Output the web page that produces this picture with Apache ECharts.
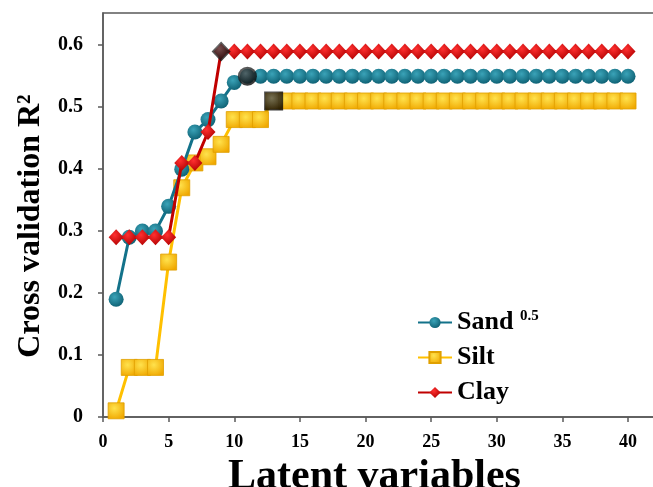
<!DOCTYPE html>
<html><head><meta charset="utf-8">
<script src="https://cdn.jsdelivr.net/npm/echarts@6/dist/echarts.min.js"></script>
<style>html,body{margin:0;padding:0;background:#fff}#c{width:653px;height:487px}</style>
</head><body><div id="c"></div>
<script>
const latent = Array.from({length:40},(_,i)=>i+1);
const sand = [0.19,0.29,0.30,0.30,0.34,0.40,0.46,0.48,0.51,0.54,0.55,0.55,0.55,0.55,0.55,0.55,0.55,0.55,0.55,0.55,0.55,0.55,0.55,0.55,0.55,0.55,0.55,0.55,0.55,0.55,0.55,0.55,0.55,0.55,0.55,0.55,0.55,0.55,0.55,0.55];
const silt = [0.01,0.08,0.08,0.08,0.25,0.37,0.41,0.42,0.44,0.48,0.48,0.48,0.51,0.51,0.51,0.51,0.51,0.51,0.51,0.51,0.51,0.51,0.51,0.51,0.51,0.51,0.51,0.51,0.51,0.51,0.51,0.51,0.51,0.51,0.51,0.51,0.51,0.51,0.51,0.51];
const clay = [0.29,0.29,0.29,0.29,0.29,0.41,0.41,0.46,0.59,0.59,0.59,0.59,0.59,0.59,0.59,0.59,0.59,0.59,0.59,0.59,0.59,0.59,0.59,0.59,0.59,0.59,0.59,0.59,0.59,0.59,0.59,0.59,0.59,0.59,0.59,0.59,0.59,0.59,0.59,0.59];
const optimalLV = {sand:11, silt:13, clay:9};
const xTicks = [0,5,10,15,20,25,30,35,40];
const yTicks = [0,0.1,0.2,0.3,0.4,0.5,0.6];

const pairs = arr => latent.map((x,i)=>[x,arr[i]]);
const radial = (c1,c2)=>({type:'radial',x:0.4,y:0.35,r:0.7,colorStops:[{offset:0,color:c1},{offset:1,color:c2}]});
const font = 'Liberation Serif';
const axisCol = '#5a5a5a';
const chart = echarts.init(document.getElementById('c'));
chart.setOption({
  animation:false,
  grid:{left:103,right:-3,top:13,bottom:70,containLabel:false,outerBoundsMode:'none',
    show:true,borderColor:axisCol,borderWidth:1.5,backgroundColor:'transparent'},
  xAxis:{type:'value',min:0,max:42.13,
    axisLine:{show:true,onZero:false,lineStyle:{color:axisCol,width:1.5}},
    axisTick:{show:true,inside:false,length:5,customValues:xTicks,lineStyle:{color:axisCol,width:1.5}},
    axisLabel:{customValues:xTicks,fontFamily:font,fontWeight:'bold',fontSize:18,color:'#000',margin:16},
    splitLine:{show:false},
    name:'Latent variables',nameLocation:'middle',nameGap:30,
    nameTextStyle:{fontFamily:font,fontWeight:'bold',fontSize:42,color:'#000',padding:[0,10,0,0]}},
  yAxis:{type:'value',min:0,max:0.652,
    axisLine:{show:true,lineStyle:{color:axisCol,width:1.5}},
    axisTick:{show:true,inside:false,length:5,customValues:yTicks,lineStyle:{color:axisCol,width:1.5}},
    axisLabel:{customValues:yTicks,fontFamily:font,fontWeight:'bold',fontSize:20,color:'#000',margin:20,
      formatter:v=>String(+v.toFixed(1))},
    splitLine:{show:false},
    name:'Cross validation R²',nameLocation:'middle',nameGap:54,nameRotate:90,
    nameTextStyle:{fontFamily:font,fontWeight:'bold',fontSize:32,color:'#000',padding:[0,0,0,-22]}},
  legend:{orient:'vertical',left:412,top:304,itemGap:9,itemWidth:34,itemHeight:14,
    data:['Sand','Silt','Clay'],
    formatter:n=> n==='Sand' ? '{a|Sand }{b|0.5}' : '{a|'+n+'}',
    textStyle:{fontFamily:font,fontWeight:'bold',fontSize:26,color:'#000',
      rich:{a:{fontFamily:font,fontWeight:'bold',fontSize:26,color:'#000'},
            b:{fontFamily:font,fontWeight:'bold',fontSize:15,color:'#000',padding:[0,0,12,0]}}}},
  series:[
    {name:'Sand',type:'line',data:pairs(sand),symbol:'circle',symbolSize:15,
      lineStyle:{color:'#13728A',width:3},itemStyle:{color:radial('#3aa3b8','#0d5f72'),borderWidth:0},z:3},
    {name:'Silt',type:'line',data:pairs(silt),symbol:'rect',symbolSize:16,
      lineStyle:{color:'#FFC000',width:3},itemStyle:{color:radial('#FFE24D','#F0A800'),borderColor:'#E0A000',borderWidth:0.8},z:2},
    {name:'Clay',type:'line',data:pairs(clay),symbol:'diamond',symbolSize:[15,16],
      lineStyle:{color:'#C00000',width:3},itemStyle:{color:radial('#FF3030','#B00000'),borderWidth:0},z:4},
    {type:'scatter',symbol:'circle',symbolSize:19,data:[[optimalLV.sand,sand[optimalLV.sand-1]]],
      itemStyle:{color:radial('#555','#000')},z:10},
    {type:'scatter',symbol:'rect',symbolSize:19,data:[[optimalLV.silt,silt[optimalLV.silt-1]]],
      itemStyle:{color:radial('#555','#000')},z:10},
    {type:'scatter',symbol:'diamond',symbolSize:[19,20],data:[[optimalLV.clay,clay[optimalLV.clay-1]]],
      itemStyle:{color:radial('#555','#000')},z:10}
  ]
});
</script></body></html>
